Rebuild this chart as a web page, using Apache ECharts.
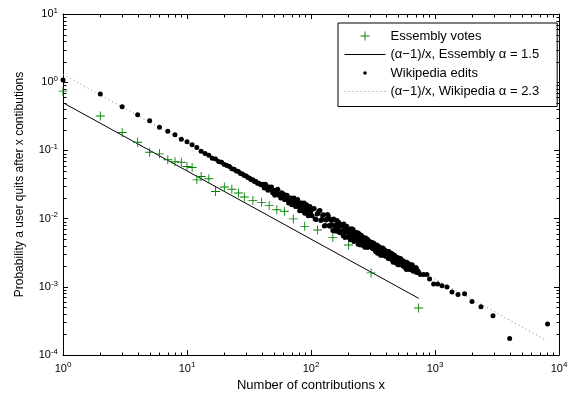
<!DOCTYPE html>
<html>
<head>
<meta charset="utf-8">
<script src="https://cdn.jsdelivr.net/npm/echarts@6/dist/echarts.min.js"></script>
<style>
html, body { margin: 0; padding: 0; background: #fff; }
#chart { width: 585px; height: 397px; }
</style>
</head>
<body>
<div id="chart"></div>
<script>
const FONT = 'Liberation Sans, Arial, Helvetica, sans-serif'

// Essembly votes (green +)
const essX = [1, 2, 3, 4, 5, 6, 7, 8, 9, 10, 11, 12, 13, 15, 17, 20, 23, 26, 29, 34, 40, 46, 53, 61, 72, 89, 113, 150, 201, 305, 738]
const essY = [0.74, 0.32, 0.183, 0.132, 0.094, 0.089, 0.073, 0.068, 0.067, 0.058, 0.056, 0.037, 0.0415, 0.0384, 0.025, 0.029, 0.027, 0.0237, 0.0207, 0.0185, 0.0173, 0.0155, 0.0135, 0.0128, 0.0099, 0.0077, 0.0068, 0.0053, 0.0041, 0.0016, 0.00049]

// Wikipedia edits (black dots)
const wikiX = [
  1, 2, 3, 4, 5, 6, 7, 8, 9, 10, 11, 12, 13,
  14, 15, 16, 17, 18, 19, 20, 21, 22, 23, 24, 25, 26, 27, 28, 29, 30, 31, 32, 33, 34, 35, 36, 37, 38, 39, 40,
  41, 42, 43, 44, 45, 46, 47, 48, 49, 50, 51, 52, 53, 54, 55, 56, 57, 58, 59, 60,
  61, 62, 63, 64, 65, 66, 67, 68, 69, 70, 71, 72, 73, 74, 75, 76, 77, 78, 79, 80,
  81, 82, 83, 84, 85, 86, 87, 88, 89, 90, 91, 92, 93, 94, 95, 96, 97, 98, 99, 100,
  104, 108, 112, 116, 120, 124, 128, 132, 136, 140, 144, 148, 152, 156, 160, 164, 168, 172, 176, 180,
  184, 188, 192, 196, 200, 204, 208, 212, 216, 220, 224, 228, 232, 236, 240, 244, 248, 252, 256, 260,
  264, 268, 272, 276, 280, 284, 288, 292, 296, 300,
  308, 316, 324, 332, 340, 348, 356, 364, 372, 380, 388, 396, 404, 412, 420, 428, 436, 444, 452, 460,
  468, 476, 484, 492, 500, 508, 516, 524, 532, 540, 548, 556, 564, 572, 580, 588, 596, 604, 612, 620,
  630, 640, 650, 660, 670, 680, 690, 700, 712, 724, 736,
  762, 809, 861, 904, 975, 1050, 1138, 1249, 1371, 1532, 1733, 1988, 2348, 2935, 3999, 8091
]
const wikiY = [
  1.08, 0.67, 0.435, 0.332, 0.271, 0.219, 0.191, 0.169, 0.146, 0.134, 0.121, 0.110, 0.097,
  0.090, 0.085, 0.077, 0.075, 0.069, 0.067, 0.062, 0.060, 0.058, 0.054, 0.053, 0.050, 0.049, 0.046, 0.045, 0.043, 0.042, 0.040, 0.039, 0.037, 0.037, 0.035, 0.035, 0.033, 0.033, 0.032, 0.031,
  0.032, 0.028, 0.032, 0.028, 0.026, 0.029, 0.027, 0.029, 0.024, 0.026, 0.022, 0.026, 0.024, 0.027, 0.022, 0.023, 0.020, 0.024, 0.021, 0.023,
  0.019, 0.021, 0.019, 0.022, 0.019, 0.017, 0.020, 0.018, 0.020, 0.016, 0.018, 0.017, 0.020, 0.017, 0.015, 0.018, 0.016, 0.019, 0.015, 0.016,
  0.013, 0.017, 0.015, 0.017, 0.013, 0.015, 0.014, 0.017, 0.012, 0.015, 0.014, 0.016, 0.012, 0.014, 0.011, 0.014, 0.013, 0.015, 0.012, 0.013,
  0.0138, 0.0099, 0.0117, 0.0129, 0.0094, 0.0111, 0.0078, 0.0095, 0.0115, 0.0079, 0.0097, 0.0080, 0.0099, 0.0066, 0.0082, 0.0070, 0.0088, 0.0062, 0.0078, 0.0066,
  0.0083, 0.0053, 0.0065, 0.0073, 0.0055, 0.0066, 0.0049, 0.0071, 0.0055, 0.0063, 0.0048, 0.0063, 0.0048, 0.0056, 0.0042, 0.0060, 0.0046, 0.0054, 0.0042, 0.0054,
  0.0043, 0.0048, 0.0038, 0.0052, 0.0043, 0.0046, 0.0038, 0.0047, 0.0039, 0.0042,
  0.0045, 0.0036, 0.0041, 0.0033, 0.0041, 0.0034, 0.0038, 0.0029, 0.0034, 0.0037, 0.0029, 0.0033, 0.0029, 0.0033, 0.0026, 0.0030, 0.0026, 0.0031, 0.0027, 0.0023,
  0.0028, 0.0024, 0.0026, 0.0022, 0.0027, 0.0023, 0.0021, 0.0024, 0.0021, 0.0024, 0.0022, 0.0020, 0.0022, 0.0020, 0.0023, 0.0018, 0.0020, 0.0019, 0.0021, 0.0019,
  0.0020, 0.0018, 0.0019, 0.0020, 0.0017, 0.0018, 0.00176, 0.00188, 0.00162, 0.0017, 0.00161,
  0.00151, 0.00151, 0.00151, 0.0013, 0.0011, 0.0011, 0.00104, 0.000997, 0.00084, 0.00077, 0.00079, 0.00061, 0.00051, 0.000375, 0.000174, 0.000286
]
// more Wikipedia dots inside the dense band (x = 100 .. 730)
const wikiBandX = [
  102, 106, 110, 114, 118, 122, 126, 130, 134, 138, 142, 146, 150, 154, 158, 162, 166, 170, 174, 178,
  182, 186, 190, 194, 198, 202, 206, 210, 214, 218, 222, 226, 230, 234, 238, 242, 246, 250, 254, 258,
  262, 266, 270, 274, 278, 282, 286, 290, 294, 298,
  312, 320, 328, 336, 344, 352, 360, 368, 376, 384, 392, 400, 408, 416, 424, 432, 440, 448, 456, 464,
  472, 480, 488, 496, 504, 512, 520, 528, 536, 544, 552, 560, 568, 576, 584, 592, 600, 608, 616, 624,
  634, 644, 654, 664, 674, 684, 694, 706, 718, 730
]
const wikiBandY = [
  0.0110, 0.0141, 0.0097, 0.0121, 0.0132, 0.0097, 0.0114, 0.0079, 0.0098, 0.0109, 0.0077, 0.0094, 0.0067, 0.0096, 0.0075, 0.0094, 0.0064, 0.0077, 0.0065, 0.0081,
  0.0056, 0.0074, 0.0063, 0.0077, 0.0063, 0.0053, 0.0070, 0.0054, 0.0061, 0.0070, 0.0046, 0.0055, 0.0061, 0.0047, 0.0062, 0.0049, 0.0053, 0.0041, 0.0057, 0.0045,
  0.0052, 0.0040, 0.0052, 0.0043, 0.0047, 0.0038, 0.0050, 0.0039, 0.0046, 0.0040,
  0.0037, 0.0044, 0.0036, 0.0039, 0.0031, 0.0039, 0.0032, 0.0037, 0.0029, 0.0033, 0.0035, 0.0028, 0.0032, 0.0028, 0.0033, 0.0027, 0.0030, 0.0025, 0.0030, 0.0026,
  0.0029, 0.0023, 0.0027, 0.0024, 0.0021, 0.0026, 0.0023, 0.0026, 0.0021, 0.0023, 0.0024, 0.0021, 0.0023, 0.0019, 0.0021, 0.0023, 0.0019, 0.0022, 0.0019, 0.0018,
  0.0021, 0.0018, 0.0021, 0.0017, 0.0019, 0.0017, 0.0018, 0.0019, 0.00165, 0.00171
]

// fitted (alpha-1)/x lines, end points
const essFitX = [1, 740]
const essFitY = [0.5, 0.000676]
const wikiFitX = [1, 8000]
const wikiFitY = [1.3, 0.0001625]

const X_MIN = 1, X_MAX = 10000
const Y_MIN = 1e-4, Y_MAX = 10

const names = [
  'Essembly votes',
  '(α\u22121)/x, Essembly α = 1.5',
  'Wikipedia edits',
  '(α\u22121)/x, Wikipedia α = 2.3'
]

const PLUS = 'path://M4.5,0h1v4.5h4.5v1h-4.5v4.5h-1v-4.5h-4.5v-1h4.5z'
const DOT_ICON = 'path://M0,0M10,10M3,5a2,2 0 1,1 4,0a2,2 0 1,1 -4,0z'

const zip = (xs, ys) => xs.map((x, i) => [x, ys[i]])

// 10^n labels with superscript
const powLabel = v => {
  const e = Math.round(Math.log10(v))
  return '{b|10}{s|' + (e < 0 ? '-' + (-e) : e) + '}'
}
const rich = {
  b: { fontSize: 11, fontFamily: FONT, color: '#000' },
  s: { fontSize: 8, fontFamily: FONT, color: '#000', padding: [0, 0, 7, 0] }
}

const chart = echarts.init(document.getElementById('chart'), null, { renderer: 'canvas' })

const axisBase = {
  type: 'log',
  logBase: 10,
  axisLine: { show: true, lineStyle: { color: '#000', width: 1 } },
  axisTick: { show: true, inside: true, length: 5, lineStyle: { color: '#000', width: 1 } },
  splitLine: { show: false },
  minorTick: { show: false },
  minorSplitLine: { show: false }
}

chart.setOption({
  animation: false,
  backgroundColor: '#fff',
  grid: { left: 63, right: 26, top: 14, bottom: 41 },
  legend: {
    orient: 'vertical',
    left: 338,
    top: 23,
    padding: [6, 18, 8, 6],
    itemGap: 4.5,
    itemWidth: 41,
    itemHeight: 9,
    borderColor: '#000',
    borderWidth: 1,
    backgroundColor: '#fff',
    lineStyle: { width: 1 },
    textStyle: { fontFamily: FONT, fontSize: 13, color: '#000', lineHeight: 14 },
    data: [
      { name: names[0] },
      { name: names[1], itemStyle: { opacity: 0 } },
      { name: names[2], icon: DOT_ICON },
      { name: names[3], itemStyle: { opacity: 0 } }
    ]
  },
  xAxis: [
    Object.assign({}, axisBase, {
      min: X_MIN, max: X_MAX, position: 'bottom',
      name: 'Number of contributions x', nameLocation: 'middle', nameGap: 24,
      nameTextStyle: { fontFamily: FONT, fontSize: 13, color: '#000' },
      axisLabel: { formatter: powLabel, rich: rich, margin: 6 }
    }),
    Object.assign({}, axisBase, {
      min: X_MIN, max: X_MAX, position: 'top', axisLabel: { show: false }
    })
  ],
  yAxis: [
    Object.assign({}, axisBase, {
      min: Y_MIN, max: Y_MAX, position: 'left',
      name: 'Probability a user quits after x contibutions', nameLocation: 'middle', nameGap: 37,
      nameTextStyle: { fontFamily: FONT, fontSize: 12, color: '#000' },
      axisLabel: { formatter: powLabel, rich: rich, margin: 5 }
    }),
    Object.assign({}, axisBase, {
      min: Y_MIN, max: Y_MAX, position: 'right', axisLabel: { show: false }
    })
  ],
  series: [
    {
      name: names[0], type: 'scatter', data: zip(essX, essY),
      symbol: PLUS, symbolSize: 9, itemStyle: { color: '#008000', opacity: 1 }, z: 3
    },
    {
      name: names[1], type: 'line', data: zip(essFitX, essFitY),
      symbol: 'none', lineStyle: { color: '#000', width: 1 }, itemStyle: { color: '#000' }, z: 2
    },
    {
      name: names[2], type: 'scatter', data: zip(wikiX, wikiY).concat(zip(wikiBandX, wikiBandY)),
      symbol: 'circle', symbolSize: 5, itemStyle: { color: '#000', opacity: 1 }, z: 4
    },
    {
      name: names[3], type: 'line', data: zip(wikiFitX, wikiFitY),
      symbol: 'none', lineStyle: { color: '#888', width: 1, type: [1, 3] }, itemStyle: { color: '#888' }, z: 1
    }
  ]
})

// MATLAB style minor ticks at 2..9 of every decade, on all four sides
const drawMinorTicks = () => {
  const px = v => chart.convertToPixel({ xAxisIndex: 0 }, v)
  const py = v => chart.convertToPixel({ yAxisIndex: 0 }, v)
  const xl = Math.round(px(X_MIN)) + 0.5, xr = Math.round(px(X_MAX)) + 0.5
  const yb = Math.round(py(Y_MIN)) + 0.5, yt = Math.round(py(Y_MAX)) + 0.5
  const seg = (x1, y1, x2, y2) => ({
    type: 'line', silent: true, z: 10,
    shape: { x1, y1, x2, y2 },
    style: { stroke: '#000', lineWidth: 1 }
  })
  const els = []
  for (let d = 0; d < 4; d++) {
    for (let m = 2; m < 10; m++) {
      const x = Math.round(px(m * Math.pow(10, d))) + 0.5
      els.push(seg(x, yb, x, yb - 3), seg(x, yt, x, yt + 3))
    }
  }
  for (let d = -4; d < 1; d++) {
    for (let m = 2; m < 10; m++) {
      const y = Math.round(py(m * Math.pow(10, d))) + 0.5
      els.push(seg(xl, y, xl + 3, y), seg(xr, y, xr - 3, y))
    }
  }
  chart.setOption({ graphic: els })
}
drawMinorTicks()
</script>
</body>
</html>
